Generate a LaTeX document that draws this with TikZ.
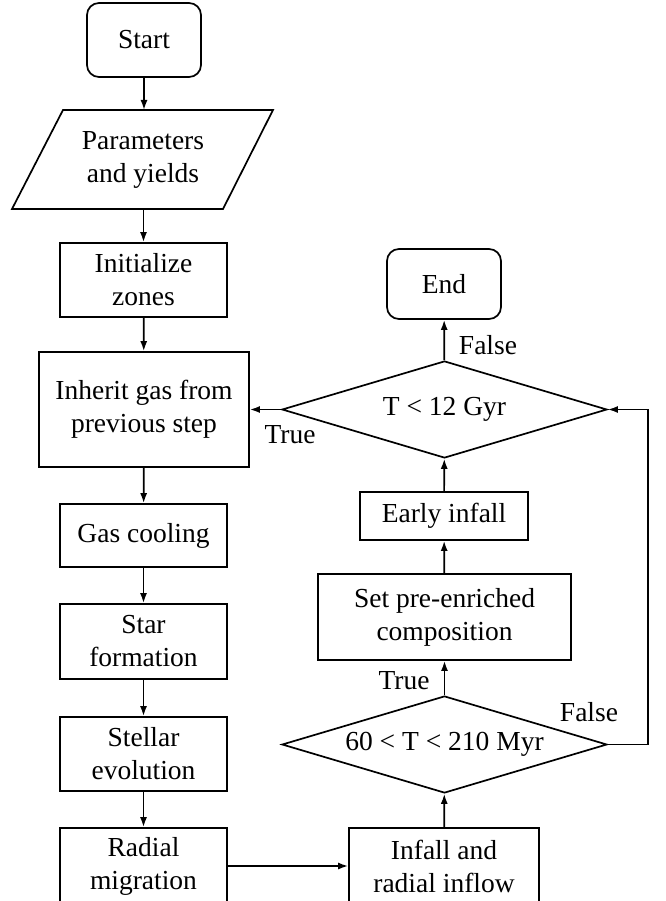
\documentclass[tikz,border=0pt]{standalone}
\usepackage{fontspec}
\setmainfont{Liberation Serif}
\usetikzlibrary{shapes.geometric,arrows.meta}
\begin{document}
\begin{tikzpicture}[x=1pt,y=-1pt,
  every node/.style={font=\fontsize{27.5}{33}\selectfont, align=center, inner sep=0pt},
  box/.style={draw, line width=1.7pt, rectangle},
  term/.style={box, rounded corners=12pt},
  dec/.style={draw, line width=1.7pt, diamond, aspect=3.35},
  lbl/.style={font=\fontsize{27.5}{33}\selectfont},
  arr/.style={line width=1.7pt, -{Latex[length=10pt,width=7pt]}}
]
\clip (0,0) rectangle (665,901);
\node[term, minimum width=114pt, minimum height=74pt] (start) at (144,40) {Start};
\node[minimum width=211pt, minimum height=99pt] (params) at (143,159.5) {Parameters\\and yields};
\draw[line width=1.7pt] (12,209) -- (63,110) -- (273,110) -- (223,209) -- cycle;
\node[box, minimum width=167pt, minimum height=74pt] (init) at (143.5,280) {Initialize\\zones};
\node[box, minimum width=210pt, minimum height=115pt] (inherit) at (144,409.5) {Inherit gas from\\previous step};
\node[box, minimum width=167pt, minimum height=63pt] (gas) at (143.5,535.5) {Gas cooling};
\node[box, minimum width=167pt, minimum height=75pt] (star) at (143.5,641.5) {Star\\formation};
\node[box, minimum width=167pt, minimum height=74pt] (stellar) at (143.5,754) {Stellar\\evolution};
\node[box, minimum width=167pt, minimum height=76pt] (radial) at (143.5,866) {Radial\\migration};
\node[box, minimum width=190pt, minimum height=76pt] (infall) at (444,866) {Infall and\\radial inflow};
\node[dec, minimum width=325pt, minimum height=97pt] (dec2) at (444.5,744.5) {60 < T < 210 Myr};
\node[box, minimum width=253pt, minimum height=86pt] (setpre) at (444.5,617) {Set pre-enriched\\composition};
\node[box, minimum width=168pt, minimum height=48pt] (early) at (444,516) {Early infall};
\node[dec, minimum width=325pt, minimum height=97pt] (dec1) at (444.5,409.5) {T < 12 Gyr};
\node[term, minimum width=114pt, minimum height=70pt] (end) at (444,284) {End};
\coordinate (loop) at (648,744.5);
\draw[arr] (start) -- (start |- 0,110);
\draw[arr] (params.south -| init.north) -- (init);
\draw[arr] (init) -- (inherit);
\draw[arr] (inherit) -- (gas);
\draw[arr] (gas) -- (star);
\draw[arr] (star) -- (stellar);
\draw[arr] (stellar) -- (radial);
\draw[arr] (radial) -- (infall);
\draw[arr] (infall) -- (dec2);
\draw[arr] (dec2) -- (setpre);
\draw[arr] (setpre) -- (early);
\draw[arr] (early) -- (dec1);
\draw[arr] (dec1) -- (end);
\draw[arr] (dec1.west) -- (inherit.east);
\draw[arr] (dec2.east) -- (loop) |- (dec1.east);
\node[lbl] (lf1) at (488,345) {False};
\node[lbl] (lt1) at (290,435) {True};
\node[lbl] (lt2) at (404,681) {True};
\node[lbl] (lf2) at (589,712) {False};
\end{tikzpicture}
\end{document}
